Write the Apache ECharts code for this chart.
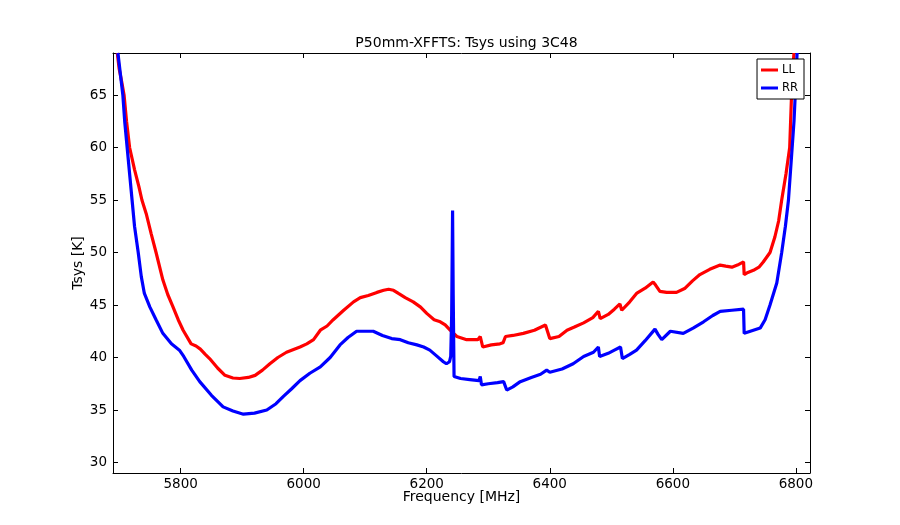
<!DOCTYPE html>
<html>
<head>
<meta charset="utf-8">
<script src="https://cdn.jsdelivr.net/npm/echarts@6/dist/echarts.min.js"></script>
<style>html,body{margin:0;padding:0;background:#fff;}#c{width:900px;height:525px;}</style>
</head>
<body>
<div id="c"></div>
<script>
const titleText = "P50mm-XFFTS: Tsys using 3C48";
const xTicks = [5800, 6000, 6200, 6400, 6600, 6800];
const yTicks = [30, 35, 40, 45, 50, 55, 60, 65];

const freqLL = [5697,5700,5704,5706,5708,5712,5717,5725,5732,5737,5744,5752,5760,5771,5779,5787,5796,5804,5817,5825,5832,5840,5847,5860,5872,5885,5896,5910,5921,5933,5945,5958,5972,5994,6005,6016,6027,6038,6048,6065,6081,6092,6105,6119,6130,6138,6146,6154,6165,6178,6190,6200,6212,6222,6230,6238,6249,6265,6283,6287,6291,6305,6319,6324,6328,6340,6357,6375,6393,6400,6403,6415,6428,6440,6455,6470,6479,6482,6495,6505,6514,6517,6530,6541,6555,6568,6572,6579,6590,6606,6620,6632,6644,6660,6677,6686,6696,6705,6715,6716,6722,6731,6740,6747,6758,6766,6772,6777,6784,6790,6793,6795,6797];
const valLL  = [69.0,67.5,66.3,66.2,65.0,62.5,60.0,57.9,56.3,55.0,53.7,51.8,50.0,47.4,46.0,44.9,43.6,42.6,41.3,41.1,40.8,40.3,39.9,39.0,38.3,38.05,38.0,38.1,38.3,38.8,39.4,40.0,40.5,41.0,41.3,41.7,42.6,43.0,43.6,44.5,45.3,45.7,45.9,46.2,46.4,46.5,46.4,46.1,45.7,45.3,44.8,44.2,43.6,43.4,43.1,42.6,42.0,41.7,41.7,42.0,41.0,41.2,41.3,41.4,42.0,42.1,42.3,42.6,43.1,41.8,41.7,42.0,42.6,42.9,43.3,43.8,44.4,43.7,44.1,44.6,45.1,44.5,45.3,46.1,46.6,47.2,46.9,46.3,46.2,46.2,46.6,47.3,47.9,48.4,48.8,48.7,48.6,48.8,49.1,47.9,48.1,48.3,48.6,49.1,50.0,51.5,53.0,55.0,57.5,60.0,65.0,67.5,69.0];

const freqRR = [5698,5702,5706,5709,5713,5717,5721,5725,5731,5736,5741,5750,5760,5771,5785,5798,5805,5818,5831,5850,5869,5885,5902,5920,5940,5955,5967,5980,5994,6010,6027,6043,6059,6072,6086,6100,6113,6128,6143,6157,6170,6184,6195,6205,6215,6227,6232,6237,6239,6240.5,6242,6243,6244.4,6255,6270,6285,6287,6289,6300,6315,6325,6330,6340,6352,6370,6385,6395,6400,6420,6438,6455,6471,6479,6481,6495,6505,6515,6518,6530,6541,6555,6571,6576,6582,6596,6617,6633,6650,6665,6677,6696,6715,6716,6726,6742,6750,6758,6769,6777,6783,6788,6794,6797,6799,6802];
const valRR  = [69.0,67.0,65.0,62.5,60.0,57.5,55.0,52.5,50.0,47.7,46.1,44.8,43.6,42.3,41.3,40.7,40.1,38.8,37.7,36.4,35.3,34.9,34.6,34.7,35.0,35.6,36.3,37.0,37.8,38.5,39.1,40.0,41.2,41.9,42.5,42.5,42.5,42.1,41.8,41.7,41.4,41.2,41.0,40.7,40.2,39.6,39.4,39.6,40.1,44.0,54.0,46.0,38.2,38.0,37.9,37.8,38.2,37.4,37.5,37.6,37.7,36.9,37.2,37.7,38.1,38.4,38.8,38.6,38.9,39.4,40.1,40.5,41.0,40.1,40.4,40.7,41.0,39.9,40.3,40.7,41.6,42.7,42.2,41.7,42.5,42.3,42.8,43.4,44.0,44.4,44.5,44.6,42.3,42.5,42.8,43.6,45.0,47.1,50.0,52.5,55.0,60.0,62.5,65.0,69.0];

const X_MIN = 5690, X_MAX = 6823, Y_MIN = 29, Y_MAX = 69;
const FONT = "DejaVu Sans";

const zip = (a, b) => a.map((v, i) => [v, b[i]]);

const chart = echarts.init(document.getElementById('c'), null, {renderer: 'canvas'});
const axisCommon = {
  type: 'value',
  axisLine: {show: true, onZero: false, lineStyle: {color: '#000', width: 1}},
  splitLine: {show: false},
  axisTick: {show: true, inside: true, length: 5, lineStyle: {color: '#000', width: 1}},
};
chart.setOption({
  animation: false,
  backgroundColor: '#fff',
  title: {
    text: titleText, left: 461.5, top: 31, textAlign: 'center',
    textStyle: {fontFamily: FONT, fontSize: 14, fontWeight: 'normal', color: '#000'}
  },
  legend: {
    orient: 'vertical', right: 96, top: 59,
    backgroundColor: '#fff', borderColor: '#000', borderWidth: 1, borderRadius: 0,
    padding: [5, 6, 5, 4], itemGap: 6,
    icon: 'rect', itemWidth: 17, itemHeight: 3,
    textStyle: {fontFamily: FONT, fontSize: 11.5, color: '#000', padding: [0, 0, 0, -1]},
    data: ['LL', 'RR']
  },
  grid: {left: 113, right: 90, top: 53, bottom: 52, containLabel: false},
  xAxis: [
    Object.assign({}, axisCommon, {
      min: X_MIN, max: X_MAX, position: 'bottom',
      name: 'Frequency [MHz]', nameLocation: 'middle', nameGap: 17, nameMoveOverlap: false,
      nameTextStyle: {fontFamily: FONT, fontSize: 14, color: '#000'},
      axisTick: Object.assign({}, axisCommon.axisTick, {customValues: xTicks}),
      axisLabel: {customValues: xTicks, formatter: v => String(v), fontFamily: FONT, fontSize: 13.5, color: '#000', margin: 4}
    }),
    Object.assign({}, axisCommon, {
      min: X_MIN, max: X_MAX, position: 'top',
      axisTick: Object.assign({}, axisCommon.axisTick, {customValues: xTicks}),
      axisLabel: {show: false}
    })
  ],
  yAxis: [
    Object.assign({}, axisCommon, {
      min: Y_MIN, max: Y_MAX, position: 'left',
      name: 'Tsys [K]', nameLocation: 'middle', nameGap: 28, nameRotate: 90, nameMoveOverlap: false,
      nameTextStyle: {fontFamily: FONT, fontSize: 14, color: '#000'},
      axisTick: Object.assign({}, axisCommon.axisTick, {customValues: yTicks}),
      axisLabel: {customValues: yTicks, formatter: v => String(v), fontFamily: FONT, fontSize: 13.5, color: '#000', margin: 6}
    }),
    Object.assign({}, axisCommon, {
      min: Y_MIN, max: Y_MAX, position: 'right',
      axisTick: Object.assign({}, axisCommon.axisTick, {customValues: yTicks}),
      axisLabel: {show: false}
    })
  ],
  series: [
    {name: 'LL', type: 'line', data: zip(freqLL, valLL), showSymbol: false, symbol: 'none',
     lineStyle: {color: '#ff0000', width: 3.2}, itemStyle: {color: '#ff0000'}, clip: true},
    {name: 'RR', type: 'line', data: zip(freqRR, valRR), showSymbol: false, symbol: 'none',
     lineStyle: {color: '#0000ff', width: 3.2}, itemStyle: {color: '#0000ff'}, clip: true}
  ]
});
</script>
</body>
</html>
